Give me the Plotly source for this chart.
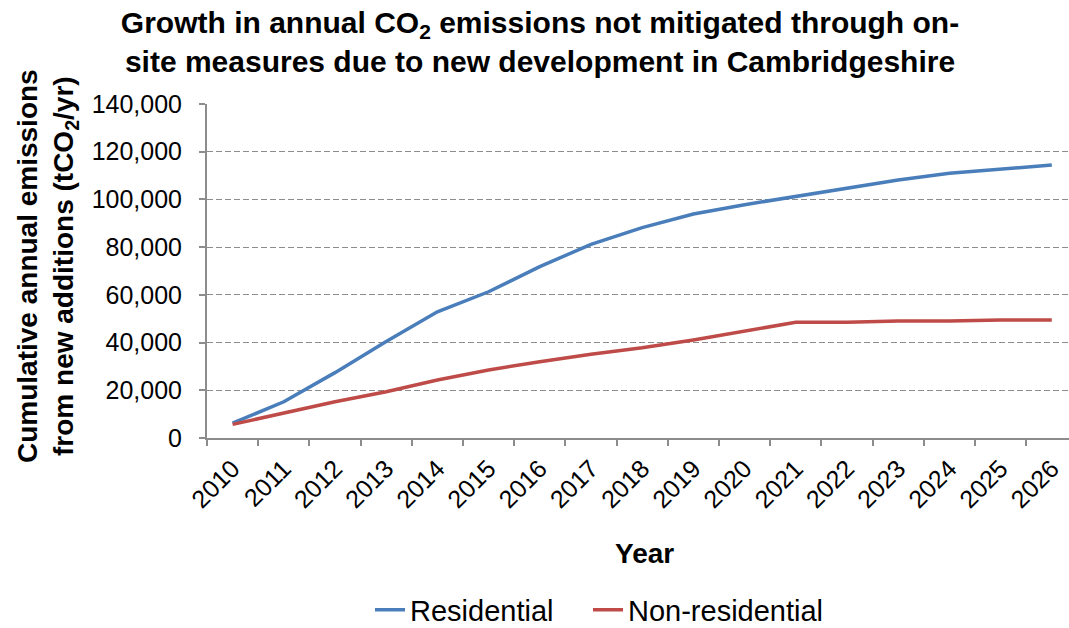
import plotly.graph_objects as go

years = [str(y) for y in range(2010, 2027)]
residential = [6200, 15200, 27400, 40400, 52900, 61300, 71800, 81200, 88200,
               93900, 97800, 101200, 104700, 108100, 111000, 112800, 114400]
non_residential = [5700, 10600, 15200, 19400, 24300, 28500, 32000, 35100, 37800,
                   41100, 44700, 48500, 48500, 49000, 49000, 49500, 49500]
y_ticks = [0, 20000, 40000, 60000, 80000, 100000, 120000, 140000]

FONT = "Liberation Sans, Arial, sans-serif"

fig = go.Figure()
fig.add_trace(go.Scatter(x=years, y=residential, mode="lines", name="Residential",
                         line=dict(color="#4a7ebb", width=3.5), legend="legend"))
fig.add_trace(go.Scatter(x=years, y=non_residential, mode="lines", name="Non-residential",
                         line=dict(color="#be4b48", width=3.5), legend="legend2"))

L, T, B = 207, 104, 190
W, H = 1069, 628
pw = W - L
ph = H - T - B

leg_common = dict(orientation="h", xanchor="left", y=1 - 610 / H, yref="container",
                  yanchor="middle", font=dict(size=29, family=FONT),
                  bgcolor="rgba(0,0,0,0)", itemwidth=30)

fig.update_layout(
    width=W, height=H,
    margin=dict(l=L, r=0, t=T, b=B, autoexpand=False),
    paper_bgcolor="white", plot_bgcolor="white",
    font=dict(family=FONT, color="black", size=25),
    showlegend=True,
    legend=dict(x=(370 - L) / pw, **leg_common),
    legend2=dict(x=(588 - L) / pw, **leg_common),
    title=dict(text="<b>Growth in annual CO<sub>2</sub> emissions not mitigated through on-<br>"
                    "site measures due to new development in Cambridgeshire</b>",
               x=540 / W, xanchor="center", xref="container",
               y=1 - 33 / H, yanchor="middle", yref="container",
               font=dict(size=30, family=FONT, color="black")),
    xaxis=dict(type="category", range=[-0.5, -0.5 + pw / 51.2], automargin=False,
               showline=True, linecolor="#8c8c8c", linewidth=2,
               ticks="outside", ticklen=6, tickcolor="#8c8c8c", tickwidth=1.5,
               tickson="boundaries", tickangle=-45, showgrid=False,
               tickfont=dict(size=25, family=FONT), ticklabelstandoff=4),
    yaxis=dict(range=[0, 140000], tickvals=y_ticks, automargin=False,
               ticktext=[f"{v:,}" for v in y_ticks],
               showline=True, linecolor="#8c8c8c", linewidth=2,
               ticks="outside", ticklen=6, tickcolor="#8c8c8c", tickwidth=1.5,
               showgrid=True, gridcolor="#8c8c8c", gridwidth=1, griddash="6px,3px",
               zeroline=False, tickfont=dict(size=25, family=FONT), ticklabelstandoff=12),
    annotations=[
        dict(text="<b>Year</b>", xref="paper", yref="paper",
             x=(644 - L) / pw, y=(438 - 553) / ph, xanchor="center", yanchor="middle",
             showarrow=False, font=dict(size=28, family=FONT)),
        dict(text="<b>Cumulative annual emissions<br>from new additions (tCO<sub>2</sub>/yr)</b>",
             xref="paper", yref="paper", textangle=-90,
             x=(47 - L) / pw, y=(438 - 266) / ph, xanchor="center", yanchor="middle",
             showarrow=False, font=dict(size=28, family=FONT)),
    ],
)

fig.write_html("out.html")
